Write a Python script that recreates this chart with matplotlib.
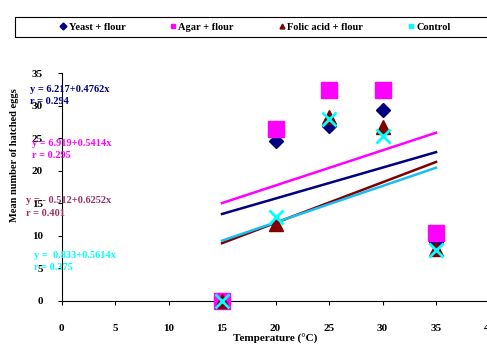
import matplotlib
matplotlib.use("Agg")
import matplotlib.pyplot as plt
from matplotlib.lines import Line2D
from matplotlib.patches import Rectangle

plt.rcParams['font.family'] = ['Liberation Serif', 'DejaVu Serif']
plt.rcParams['font.weight'] = 'bold'

# data
temperature = [15, 20, 25, 30, 35]
yeast = [0, 24.6, 26.9, 29.4, 9.0]
agar = [0, 26.5, 32.5, 32.4, 10.5]
folic = [0, 11.8, 28.3, 26.8, 7.9]
control = [0, 12.9, 28.0, 25.3, 7.8]

series_names = ["Yeast + flour", "Agar + flour", "Folic acid + flour", "Control"]
intercepts = [6.217, 6.919, -0.512, 0.833]
slopes = [0.4762, 0.5414, 0.6252, 0.5614]
r_values = ["0.294", "0.295", "0.401", "0.375"]
equations = ["y = 6.217+0.4762x", "y = 6.919+0.5414x",
             "y = - 0.512+0.6252x", "y =  0.833+0.5614x"]

x_ticks = [0, 5, 10, 15, 20, 25, 30, 35, 40]
y_ticks = [0, 5, 10, 15, 20, 25, 30, 35]

marker_colors = ['#000080', '#FF00FF', '#800000', '#00FFFF']
line_colors = ['#000080', '#FF00FF', '#800000', '#19BEF0']
text_colors = ['#000080', '#FF00FF', '#993366', '#00FFFF']
markers = ['D', 's', '^', 'x']
marker_sizes = [7.5, 11, 10, 10]

fig = plt.figure(figsize=(4.87, 3.53), dpi=100)
ax = fig.add_axes([0.1263, 0.148, 0.879, 0.644])

all_series = [yeast, agar, folic, control]

# trend lines from 15 to 35
t0, t1 = temperature[0], temperature[-1]
for b, m, c in zip(intercepts, slopes, line_colors):
    ax.plot([t0, t1], [b + m * t0, b + m * t1], color=c, lw=1.8, zorder=2)

for vals, mk, ms, c in zip(all_series, markers, marker_sizes, marker_colors):
    if mk == 'x':
        ax.plot(temperature, vals, linestyle='none', marker=mk, ms=ms,
                mew=2, color=c, zorder=3, clip_on=False)
    else:
        ax.plot(temperature, vals, linestyle='none', marker=mk, ms=ms,
                color=c, mec=c, zorder=3, clip_on=False)

ax.set_xlim(0, 40)
ax.set_ylim(0, 35)
ax.set_xticks(x_ticks)
ax.set_yticks(y_ticks)
ax.spines['top'].set_visible(False)
ax.spines['right'].set_visible(False)
ax.tick_params(axis='x', direction='out', length=3, pad=13.5, labelsize=8)
ax.tick_params(axis='y', direction='out', length=3, pad=10.5, labelsize=8)
ax.set_xlabel("Temperature (°C)", fontsize=8, fontweight='bold')
ax.xaxis.set_label_coords(0.5, -0.147)
ax.set_ylabel("Mean number of hatched eggs", fontsize=7.5, fontweight='bold')
ax.yaxis.set_label_coords(-0.100, 0.64)

# equation labels
eq_pos = [(30, 89), (32, 144), (26, 201), (34, 256)]
for (px, py), eq, r, c in zip(eq_pos, equations, r_values, text_colors):
    fig.text(px / 487, 1 - py / 353, eq, color=c, fontsize=7.5,
             fontweight='bold', va='center', ha='left')
    fig.text(px / 487, 1 - (py + 12) / 353, "r = " + r, color=c, fontsize=7.5,
             fontweight='bold', va='center', ha='left')

# legend box
fig.patches.append(Rectangle((15 / 487, 1 - 37 / 353), 480 / 487, 20 / 353,
                             transform=fig.transFigure, fill=False,
                             edgecolor='black', lw=0.8))
handles = [Line2D([], [], linestyle='none', marker=mk, color=c, ms=3.5)
           for mk, c in zip(['D', 's', '^', 's'], marker_colors)]
fig.legend(handles, series_names, loc='center left', ncol=4,
           bbox_to_anchor=(55 / 487, 1 - 27 / 353), frameon=False,
           fontsize=7.5, handlelength=0.6, handletextpad=0.2,
           columnspacing=4.3, borderpad=0)

fig.savefig("out.png", dpi=100)
